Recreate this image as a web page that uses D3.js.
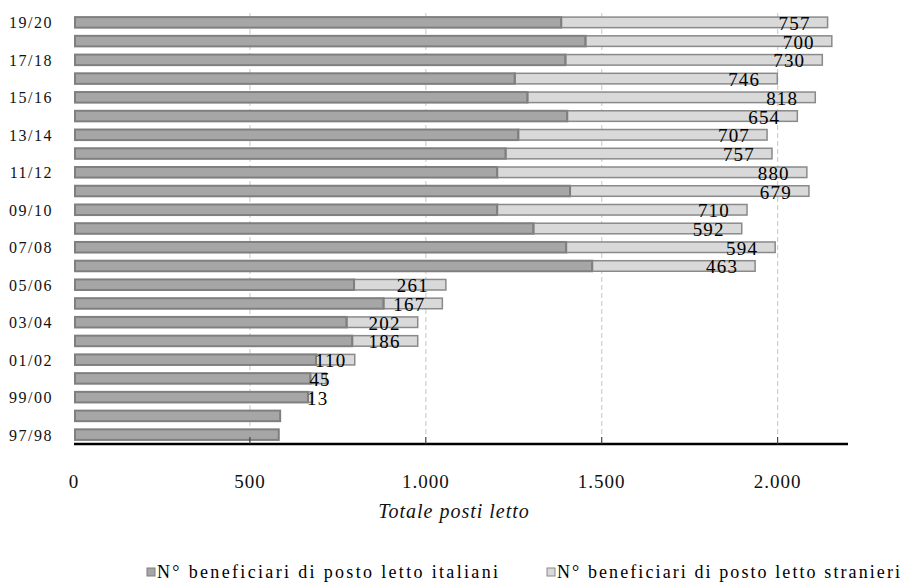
<!DOCTYPE html>
<html>
<head>
<meta charset="utf-8">
<script src="https://cdn.jsdelivr.net/npm/d3@7"></script>
<style>
  html, body { margin: 0; padding: 0; background: #fff; }
  svg { display: block; font-family: "Liberation Serif", "Times New Roman", serif; }
</style>
</head>
<body>
<svg id="chart" width="910" height="584"></svg>
<script>
const categories = ["97/98","98/99","99/00","00/01","01/02","02/03","03/04","04/05","05/06","06/07","07/08","08/09","09/10","10/11","11/12","12/13","13/14","14/15","15/16","16/17","17/18","18/19","19/20"];
const italiani  = [582, 586, 665, 672, 688, 791, 775, 880, 796, 1473, 1399, 1306, 1203, 1410, 1203, 1227, 1263, 1402, 1289, 1253, 1397, 1454, 1385];
const stranieri = [0, 0, 13, 45, 110, 186, 202, 167, 261, 463, 594, 592, 710, 679, 880, 757, 707, 654, 818, 746, 730, 700, 757];
const xTicks = [0, 500, 1000, 1500, 2000];
const seriesNames = ["N° beneficiari di posto letto italiani", "N° beneficiari di posto letto stranieri"];
const axisTitle = "Totale posti letto";

const colItaFill = "#a6a6a6", colItaStroke = "#7f7f7f";
const colStrFill = "#d9d9d9", colStrStroke = "#8a8a8a";

const svg = d3.select("#chart");
const x = d3.scaleLinear().domain([0, 2200]).range([74, 848]);
const y = d3.scaleBand().domain(categories.slice().reverse()).range([13, 444]).paddingInner(0.33).paddingOuter(0.165);
const fmt = d3.formatLocale({decimal: ",", thousands: ".", grouping: [3], currency: ["", ""]}).format(",");

// gridlines
svg.append("g").selectAll("line").data(xTicks.filter(d => d > 0)).join("line")
  .attr("x1", d => x(d)).attr("x2", d => x(d))
  .attr("y1", 13).attr("y2", 444)
  .attr("stroke", "#d0d0d0").attr("stroke-width", 1.2).attr("stroke-dasharray", "5,3");

const rows = categories.map((c, i) => ({c, ita: italiani[i], str: stranieri[i], i}));

// italian bars
svg.append("g").selectAll("rect").data(rows).join("rect")
  .attr("x", d => x(0) + 1).attr("y", d => y(d.c) + 1)
  .attr("width", d => x(d.ita) - x(0) - 1).attr("height", y.bandwidth() - 2)
  .attr("fill", colItaFill).attr("stroke", colItaStroke).attr("stroke-width", 2);

// stranieri bars
svg.append("g").selectAll("rect").data(rows.filter(d => d.str > 0)).join("rect")
  .attr("x", d => x(d.ita)).attr("y", d => y(d.c) + 1)
  .attr("width", d => x(d.ita + d.str) - x(d.ita)).attr("height", y.bandwidth() - 2)
  .attr("fill", colStrFill).attr("stroke", colStrStroke).attr("stroke-width", 1.5);

// redraw italian right edge on top
svg.append("g").selectAll("line").data(rows.filter(d => d.str > 0)).join("line")
  .attr("x1", d => x(d.ita)).attr("x2", d => x(d.ita))
  .attr("y1", d => y(d.c) + 1).attr("y2", d => y(d.c) + y.bandwidth() - 1)
  .attr("stroke", colItaStroke).attr("stroke-width", 2);

// data labels
const lbl = svg.append("g").selectAll("text").data(rows.filter(d => d.str > 0)).join("text")
  .attr("y", d => y(d.c) + y.bandwidth() / 2 + 7.5)
  .attr("font-size", 19).attr("letter-spacing", "1.2px").attr("fill", "#000")
  .text(d => d.str);
lbl.each(function(d) {
  const w = this.getComputedTextLength();
  let start = x(d.ita + d.str) - 17 - w;
  if (start < x(d.ita)) start = x(d.ita) - 1;
  d3.select(this).attr("x", start);
});

// axis line
svg.append("line").attr("x1", 74).attr("x2", 848).attr("y1", 444).attr("y2", 444)
  .attr("stroke", "#000").attr("stroke-width", 2.5);
// ticks
svg.append("g").selectAll("line").data(xTicks.filter(d => d > 0)).join("line")
  .attr("x1", d => x(d)).attr("x2", d => x(d)).attr("y1", 437).attr("y2", 444)
  .attr("stroke", "#333").attr("stroke-width", 1);

// x tick labels
svg.append("g").selectAll("text").data(xTicks).join("text")
  .attr("x", d => x(d)).attr("y", 488).attr("text-anchor", "middle")
  .attr("font-size", 19).attr("letter-spacing", "1px").attr("fill", "#111")
  .text(d => fmt(d));

// axis title
svg.append("text").attr("x", 454).attr("y", 518).attr("text-anchor", "middle")
  .attr("font-size", 20).attr("font-style", "italic").attr("letter-spacing", "1px").attr("fill", "#111")
  .text(axisTitle);

// y labels
svg.append("g").selectAll("text").data(rows.filter(d => d.i % 2 === 0)).join("text")
  .attr("x", 53).attr("y", d => y(d.c) + y.bandwidth() / 2 + 6)
  .attr("text-anchor", "end").attr("font-size", 16).attr("letter-spacing", "1.5px").attr("fill", "#111")
  .text(d => d.c);

// legend
const legend = [
  {name: seriesNames[0], fill: colItaFill, stroke: colItaStroke, x: 147, len: 341},
  {name: seriesNames[1], fill: colStrFill, stroke: colStrStroke, x: 547, len: 343}
];
const lg = svg.append("g").selectAll("g").data(legend).join("g");
lg.append("rect").attr("x", d => d.x).attr("y", 568).attr("width", 8).attr("height", 8)
  .attr("fill", d => d.fill).attr("stroke", d => d.stroke).attr("stroke-width", 1);
lg.append("text").attr("x", d => d.x + 10).attr("y", 578)
  .attr("font-size", 18).attr("fill", "#000")
  .attr("textLength", d => d.len).attr("lengthAdjust", "spacing")
  .text(d => d.name);
</script>
</body>
</html>
